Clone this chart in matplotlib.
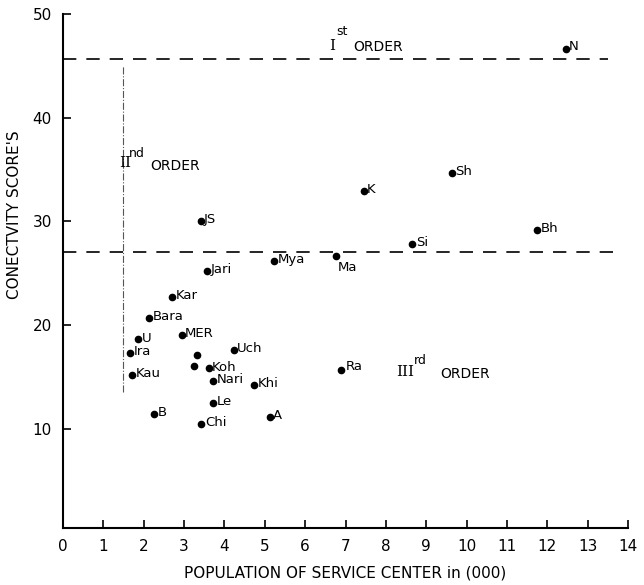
import matplotlib
matplotlib.use("Agg")
import matplotlib.pyplot as plt

# service centres: population (000) vs connectivity score
names = ["N", "Sh", "K", "Bh", "Si", "JS", "Ma", "Mya", "Jari", "Kar",
         "Bara", "MER", "U", "Ira", "", "Uch", "", "Koh", "Kau", "Nari",
         "Khi", "Ra", "Le", "B", "A", "Chi"]
population = [12.47, 9.63, 7.45, 11.75, 8.66, 3.41, 6.77, 5.23, 3.56, 2.71,
              2.14, 2.94, 1.86, 1.66, 3.33, 4.23, 3.25, 3.61, 1.71, 3.72,
              4.74, 6.90, 3.72, 2.26, 5.12, 3.43]
score = [46.6, 34.7, 32.9, 29.2, 27.8, 30.0, 26.6, 26.2, 25.2, 22.7,
         20.7, 19.0, 18.6, 17.3, 17.1, 17.6, 16.0, 15.8, 15.2, 14.6,
         14.2, 15.6, 12.5, 11.4, 11.1, 10.4]

# order thresholds
first_order = 45.7
second_order = 27.0
split_pop = 1.49

xticks = list(range(0, 15))
yticks = [10, 20, 30, 40, 50]

plt.rcParams['font.family'] = ['DejaVu Sans']

fig = plt.figure(figsize=(6.44, 5.85), dpi=100)
ax = fig.add_axes([63 / 644, 57 / 585, 565 / 644, 514 / 585])

ax.plot(population, score, 'o', color='black', markersize=4.5)

label_offsets = {"Ma": (1, -8), "Ra": (3, 3), "N": (2, 2)}
for name, xv, yv in zip(names, population, score):
    if not name:
        continue
    off = label_offsets.get(name, (2.5, 1))
    ax.annotate(name, (xv, yv), xytext=off, textcoords='offset points',
                fontsize=9.5, va='center', ha='left')

# dashed order boundaries
ax.plot([0, 13.5], [first_order, first_order], color='black', lw=1.2,
        dashes=(8, 6))
ax.plot([0, 13.7], [second_order, second_order], color='black', lw=1.2,
        dashes=(8, 6))
ax.plot([split_pop, split_pop], [13.5, 45.0], color='#555555', lw=0.8,
        linestyle='-.')

# order annotations
ax.text(6.6, 46.9, "I", family='DejaVu Serif', fontsize=11, va='center', ha='left')
ax.text(6.78, 48.3, "st", fontsize=9, va='center', ha='left')
ax.text(7.2, 46.8, "ORDER", fontsize=10, va='center', ha='left')

ax.text(1.38, 35.6, "II", family='DejaVu Serif', fontsize=11, va='center', ha='left')
ax.text(1.62, 36.5, "nd", fontsize=9, va='center', ha='left')
ax.text(2.15, 35.3, "ORDER", fontsize=10, va='center', ha='left')

ax.text(8.25, 15.5, "III", family='DejaVu Serif', fontsize=11, va='center', ha='left')
ax.text(8.7, 16.6, "rd", fontsize=9, va='center', ha='left')
ax.text(9.35, 15.3, "ORDER", fontsize=10, va='center', ha='left')

ax.set_xlim(0, 14)
ax.set_ylim(0.4, 50)
ax.set_xticks(xticks)
ax.set_yticks(yticks)
ax.tick_params(axis='both', direction='in', length=6, width=1.2,
               labelsize=11, pad=8)
ax.spines['top'].set_visible(False)
ax.spines['right'].set_visible(False)
ax.spines['left'].set_linewidth(1.5)
ax.spines['bottom'].set_linewidth(1.5)

ax.set_xlabel("POPULATION OF SERVICE CENTER in (000)", fontsize=11, labelpad=8)
ax.set_ylabel("CONECTVITY SCORE'S", fontsize=11)
ax.yaxis.set_label_coords(-0.073, 0.61)

fig.savefig("out.png", dpi=100)
